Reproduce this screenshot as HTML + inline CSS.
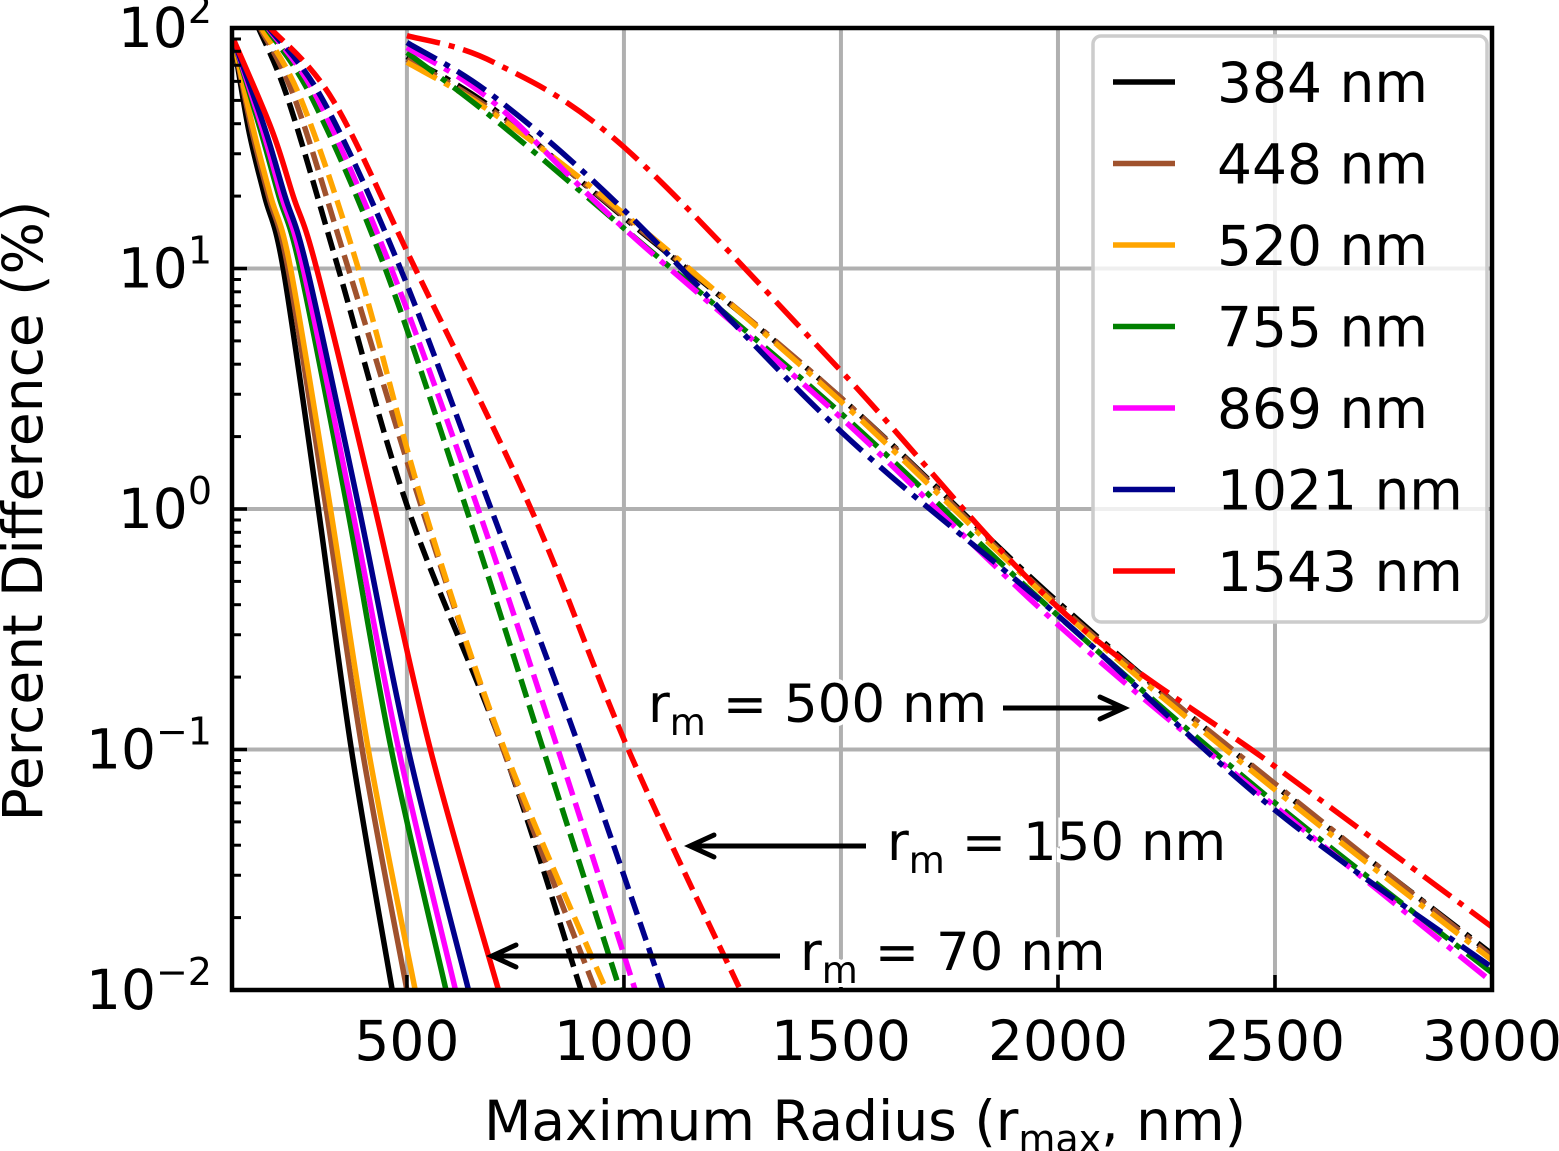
<!DOCTYPE html>
<html><head><meta charset="utf-8"><style>
html,body{margin:0;padding:0;background:#fff}
svg{display:block;font-family:"DejaVu Sans","Liberation Sans",sans-serif}
</style></head><body>
<svg id="chart" width="1559" height="1151" viewBox="0 0 1559 1151" xmlns="http://www.w3.org/2000/svg">
<defs><clipPath id="plotclip"><rect x="232" y="28" width="1260" height="962"/></clipPath></defs>
<g id="grid"></g>
<g id="series" clip-path="url(#plotclip)"></g>
<rect x="232" y="28" width="1260" height="962" fill="none" stroke="#000" stroke-width="4.5"/>
<g id="ticks"></g>
<text x="865" y="1140" font-size="55" text-anchor="middle">Maximum Radius (r<tspan font-size="38" dy="12">max</tspan><tspan dy="-12">, nm)</tspan></text>
<text transform="translate(42,511) rotate(-90)" font-size="55" text-anchor="middle">Percent Difference (%)</text>
<g>
<text x="648" y="722" font-size="53" stroke="#fff" stroke-width="8" paint-order="stroke">r<tspan font-size="37" dy="13">m</tspan><tspan dy="-13"> = 500 nm</tspan></text>
<line x1="1003" y1="708" x2="1122" y2="708" stroke="#000" stroke-width="5"/>
<polyline points="1100,697 1124,708 1100,719" fill="none" stroke="#000" stroke-width="5" stroke-linecap="round"/>
</g>
<g>
<text x="887" y="860" font-size="53" stroke="#fff" stroke-width="8" paint-order="stroke">r<tspan font-size="37" dy="13">m</tspan><tspan dy="-13"> = 150 nm</tspan></text>
<line x1="866" y1="846" x2="692" y2="846" stroke="#000" stroke-width="5"/>
<polyline points="714,835 690,846 714,857" fill="none" stroke="#000" stroke-width="5" stroke-linecap="round"/>
</g>
<g>
<text x="800" y="970" font-size="53" stroke="#fff" stroke-width="8" paint-order="stroke">r<tspan font-size="37" dy="13">m</tspan><tspan dy="-13"> = 70 nm</tspan></text>
<line x1="780" y1="956" x2="494" y2="956" stroke="#000" stroke-width="5"/>
<polyline points="516,945 492,956 516,967" fill="none" stroke="#000" stroke-width="5" stroke-linecap="round"/>
</g>
<g id="legend">
<rect x="1093" y="36" width="394" height="586" rx="8" fill="#fff" fill-opacity="0.8" stroke="#cccccc" stroke-width="3.5"/>
</g>
</svg>
<script>
const xTicks = [500, 1000, 1500, 2000, 2500, 3000];
const yTickExp = [2, 1, 0, -1, -2];
const colors = ["#000000", "#a0522d", "#ffa500", "#008000", "#ff00ff", "#00008b", "#ff0000"];
const labels = ["384 nm", "448 nm", "520 nm", "755 nm", "869 nm", "1021 nm", "1543 nm"];

// rm = 70 nm (solid)
const solidX = [
  [100,135,172,215,296,372,466],
  [100,142,181,226,314,397,500],
  [100,146,186,232,324,411,519],
  [100,162,205,254,363,464,590],
  [100,167,211,261,374,481,612],
  [100,173,219,270,390,503,642],
  [100,188,238,292,427,554,711]
];
const solidY = [90,38,20,10,1,0.1,0.01];

// rm = 150 nm (dashed)
const dashedX = [
  [158,227,342,503,722,901],
  [162,243,365,535,722,934],
  [165,257,388,540,725,959],
  [176,284,450,637,814,991],
  [180,296,464,664,848,1026],
  [182,307,485,694,899,1090],
  [185,330,519,786,1010,1268]
];
const dashedY = [100,50,10,1,0.1,0.01];

// rm = 500 nm (dash-dot)
const dotX = [500,700,1000,1500,2000,2500,3000];
const dotY = [
  [76,46,16.3,2.9,0.41,0.071,0.0141],
  [74,45,16.5,2.9,0.40,0.072,0.0138],
  [72,44,16.9,2.8,0.39,0.068,0.0133],
  [79,42,14.7,2.5,0.36,0.060,0.0118],
  [83,49,14.7,2.4,0.33,0.058,0.0108],
  [87,52,17.5,2.1,0.36,0.056,0.0124],
  [93,72,32,3.75,0.39,0.085,0.0183]
];

const X0=232, X1=1492, Y0=28, Y1=990;
const xMin=97, xMax=3000;
function sx(v){return X0+(v-xMin)/(xMax-xMin)*(X1-X0);}
function sy(v){return Y0+(2-Math.log10(v))/4*(Y1-Y0);}
const NS="http://www.w3.org/2000/svg";
function mk(tag,parent){const e=document.createElementNS(NS,tag);parent.appendChild(e);return e;}

const grid=document.getElementById('grid');
xTicks.forEach(t=>{const l=mk('line',grid);


l.setAttribute('x1',sx(t));l.setAttribute('x2',sx(t));l.setAttribute('y1',Y0);l.setAttribute('y2',Y1);l.setAttribute('stroke','#b0b0b0');l.setAttribute('stroke-width','4');});
yTickExp.forEach(e=>{const l=mk('line',grid);


const y=sy(Math.pow(10,e));l.setAttribute('x1',X0);l.setAttribute('x2',X1);l.setAttribute('y1',y);l.setAttribute('y2',y);l.setAttribute('stroke','#b0b0b0');l.setAttribute('stroke-width','4');});

const ticks=document.getElementById('ticks');
xTicks.forEach(t=>{const x=sx(t);
const l=mk('line',ticks);


l.setAttribute('x1',x);l.setAttribute('x2',x);l.setAttribute('y1',Y1);l.setAttribute('y2',Y1-15);l.setAttribute('stroke','#000');l.setAttribute('stroke-width','3.5');
const tx=mk('text',ticks);


tx.setAttribute('x',x);tx.setAttribute('y',1060);tx.setAttribute('font-size','55');tx.setAttribute('text-anchor','middle');tx.textContent=String(t);});
yTickExp.forEach(e=>{const y=sy(Math.pow(10,e));
const l=mk('line',ticks);


l.setAttribute('x1',X0);l.setAttribute('x2',X0+15);l.setAttribute('y1',y);l.setAttribute('y2',y);l.setAttribute('stroke','#000');l.setAttribute('stroke-width','3.5');
const tx=mk('text',ticks);


tx.setAttribute('x',212);tx.setAttribute('y',y+19);tx.setAttribute('font-size','55');tx.setAttribute('text-anchor','end');
tx.innerHTML='10<tspan font-size="38" dy="-24">'+(e<0?'\u2212'+(-e):e)+'</tspan>';
if(e>-2){for(let m=2;m<=9;m++){const v=Math.pow(10,e-1)*m;const yy=sy(v);
const ml=mk('line',ticks);


ml.setAttribute('x1',X0);ml.setAttribute('x2',X0+9);ml.setAttribute('y1',yy);ml.setAttribute('y2',yy);ml.setAttribute('stroke','#000');ml.setAttribute('stroke-width','3');}}
});

function pathFrom(xs,ys){
  const p=xs.map((x,i)=>[sx(x),sy(ys[i])]);
  let d='M'+p[0][0].toFixed(1)+','+p[0][1].toFixed(1);
  for(let i=0;i<p.length-1;i++){
    const p0=p[Math.max(0,i-1)],p1=p[i],p2=p[i+1],p3=p[Math.min(p.length-1,i+2)];
    const c1=[p1[0]+(p2[0]-p0[0])/6,p1[1]+(p2[1]-p0[1])/6];
    const c2=[p2[0]-(p3[0]-p1[0])/6,p2[1]-(p3[1]-p1[1])/6];
    d+=' C'+c1[0].toFixed(1)+','+c1[1].toFixed(1)+' '+c2[0].toFixed(1)+','+c2[1].toFixed(1)+' '+p2[0].toFixed(1)+','+p2[1].toFixed(1);
  }
  return d;
}
const series=document.getElementById('series');
function draw(xs,ys,color,dash,name){
  const pa=mk('path',series);
  
  
  pa.setAttribute('d',pathFrom(xs,ys));pa.setAttribute('fill','none');pa.setAttribute('stroke',color);pa.setAttribute('stroke-width','5.5');
  if(dash)pa.setAttribute('stroke-dasharray',dash);
}
for(let i=0;i<7;i++){
  draw(solidX[i],solidY,colors[i],null,'line-rm70-'+labels[i].replace(' ','').toLowerCase());
  draw(dashedX[i],dashedY,colors[i],'19,8','line-rm150-'+labels[i].replace(' ','').toLowerCase());
  draw(dotX,dotY[i],colors[i],'34,9,6,9','line-rm500-'+labels[i].replace(' ','').toLowerCase());
}

const legend=document.getElementById('legend');
labels.forEach((lab,i)=>{const y=82+i*81.5;
const g=mk('g',legend);


const l=mk('line',g);
l.setAttribute('x1',1113);l.setAttribute('x2',1175);l.setAttribute('y1',y);l.setAttribute('y2',y);l.setAttribute('stroke',colors[i]);l.setAttribute('stroke-width','5.5');
const t=mk('text',g);
t.setAttribute('x',1217);t.setAttribute('y',y+20);t.setAttribute('font-size','55');t.textContent=lab;});
</script>
</body></html>
